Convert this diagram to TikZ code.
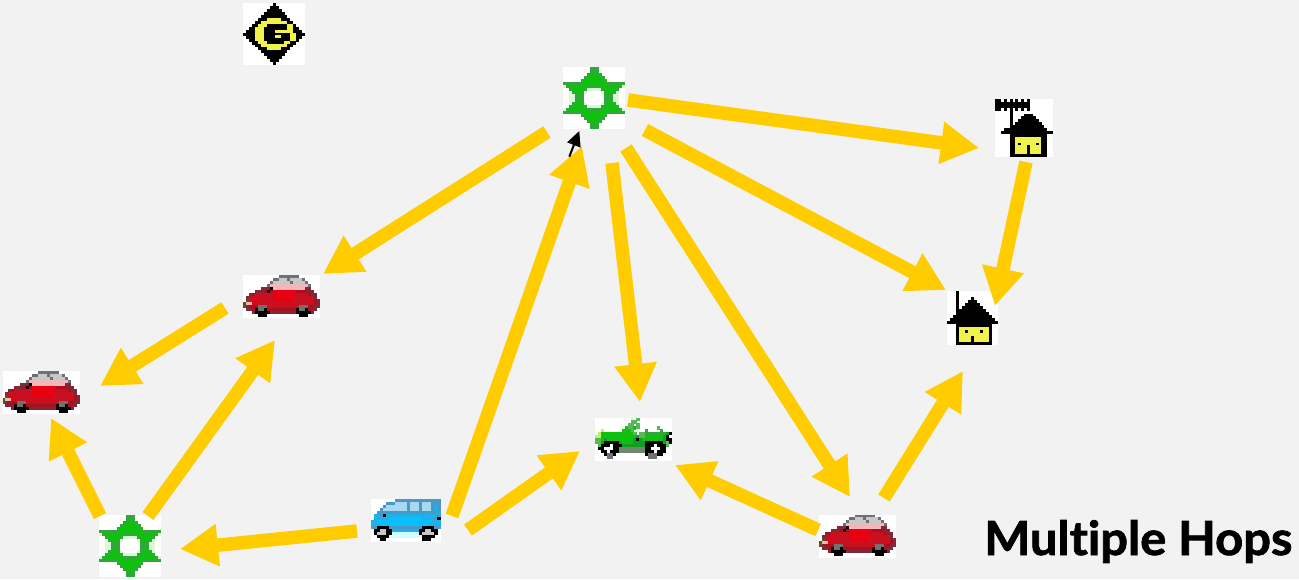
\documentclass[tikz,border=0pt]{standalone}
\usepackage{fontspec}
\setmainfont{Lato}
\newfontfamily\headfont[Ligatures=CommonOff,BoldFeatures={FakeBold=1.6,FakeStretch=1.04}]{Lato}
\usetikzlibrary{arrows.meta}
\definecolor{bgc}{HTML}{F2F2F2}
\definecolor{flowc}{HTML}{FFCC00}
\definecolor{pxk}{HTML}{000000}
\definecolor{pxy}{HTML}{F2F24C}
\definecolor{pxg}{HTML}{30A838}
\definecolor{pxG}{HTML}{10C010}
\definecolor{pxl}{HTML}{D8F8D8}
\definecolor{pxw}{HTML}{FFFFFF}
\definecolor{pxa}{HTML}{707070}
\definecolor{pxc}{HTML}{C8C8C8}
\definecolor{pxp}{HTML}{F0B8B8}
\definecolor{pxr}{HTML}{E80010}
\definecolor{pxR}{HTML}{C81020}
\definecolor{pxd}{HTML}{A81020}
\definecolor{pxm}{HTML}{802838}
\definecolor{pxo}{HTML}{605018}
\definecolor{pxb}{HTML}{20B0E8}
\definecolor{pxB}{HTML}{08C0FF}
\definecolor{pxs}{HTML}{A8D8F0}
\definecolor{pxD}{HTML}{4898C8}
\definecolor{pxu}{HTML}{D0FFFF}
\definecolor{pxe}{HTML}{58B858}
\definecolor{pxf}{HTML}{10A020}
\definecolor{pxh}{HTML}{708870}
\definecolor{pxn}{HTML}{C0F070}
\newcount\pxcol
\def\pxparse#1{\ifx#1\relax\else
  \if#1x\else\fill[px#1] (\the\pxcol,\pxrowno) rectangle +(1.06,1.06);\fi
  \advance\pxcol by 1 \expandafter\pxparse\fi}
\newcommand{\pixmap}[3]{%
  \begin{scope}[shift={(#1.north west)},x=#2pt,y=-#2pt]
  \foreach \pxline [count=\pxi from 0] in #3{%
    \pgfmathtruncatemacro{\pxrowno}{\pxi}\global\pxcol=0
    \expandafter\pxparse\pxline\relax}
  \end{scope}}
\def\mapG{xxxxxxxxxxkxxxxxxxxxx,xxxxxxxxxkkkxxxxxxxxx,xxxxxxxxkkkkkxxxxxxxx,xxxxxxxkkkkkkkxxxxxxx,xxxxxxkkkkkkkkkxxxxxx,xxxxxkkkyyyyykkkxxxxx,xxxxkkyyyyyyyyykkxxxx,xxxkkyyykkkkkkkyykxxx,xxkkyyykkkkkkkkyykkxx,xkkkyyykkkkyyyyyykkkx,kkkkyyykkkkkkkkkyykkk,xkkkyyykkkkyykkkyykkx,xxkkyyykkkkkkkkkyykxx,xxxkkyyykkkkkkyykkxxx,xxxxkkyyyyyyyyykkxxxx,xxxxxkkkyyyyykkkxxxxx,xxxxxxkkkkkkkkkxxxxxx,xxxxxxxkkkkkkkxxxxxxx,xxxxxxxxkkkkkxxxxxxxx,xxxxxxxxxkkkxxxxxxxxx,xxxxxxxxxxkxxxxxxxxxx}
\def\mapT{xxxxxxxxxgggxxxxxxxxx,xxxxxxxxxgggxxxxxxxxx,xxxxxxxxgGGGgxxxxxxxx,xxxxxxxgGGGGGgxxxxxxx,xxxxxxgGGGGGGGgxxxxxx,ggggggGGGGGGGGGgggggg,lgGGGGGGgggggGGGGGGgl,xxgGGGGglllllgGGGGgxx,xxlgGGglwwwwwlgGGglxx,xxllgggwwwwwwwgggllxx,xxllgggwwwwwwwgggllxx,xxllgggwwwwwwwgggllxx,xxlgGGglwwwwwlgGGglxx,xxgGGGGglllllgGGGGgxx,lgGGGGGGgggggGGGGGGgl,ggggggGGGGGGGGGgggggg,xxxxxxgGGGGGGGgxxxxxx,xxxxxxxgGGGGGgxxxxxxx,xxxxxxxxgGGGgxxxxxxxx,xxxxxxxxxgggxxxxxxxxx,xxxxxxxxxgggxxxxxxxxx}
\def\mapH{kkxkxkxkxkxkxxxxxxxx,kkkkkkkkkkkkxxxxxxxx,kkkkkkkkkkkkxxxxxxxx,kkxkxkxkxkxkxxxxxxxx,xxxxxkxxxxxxxxxxxxxx,xxxxxkxxxxkkkxxxxxxx,xxxxxkxxxkkkkkxxxxxx,xxxxxkxxkkkkkkkxxxxx,xxxxxkxkkkkkkkkkxxxx,xxxxxkkkkkkkkkkkkxxx,xxxkkkkkkkkkkkkkkkxx,xxkkkkkkkkkkkkkkkkkk,xxxxxkkkkkkkkkkkkkxx,xxxxxkkyyyyyyyyykkxx,xxxxxkkyyyyyyyyykkxx,xxxxxkkykyyyyykykkxx,xxxxxkkyyyykyyyykkxx,xxxxxkkyyyykyyyykkxx,xxxxxkkyyyykyyyykkxx,xxxxxkkkkkkkkkkkkkxx}
\def\mapI{xxxkxxxxxxxxxxxxx,xxxkxxxxxxxxxxxxx,xxxkxxxxkxxxxxxxx,xxxkxxxkkkxxxxxxx,xxxkxxkkkkkxxxxxx,xxxkxkkkkkkkxxxxx,xxxkkkkkkkkkkxxxx,xxxkkkkkkkkkkkxxx,xxkkkkkkkkkkkkkxx,xkkkkkkkkkkkkkkkx,kkkkkkkkkkkkkkkkk,xxxkkkkkkkkkkkkxx,xxxkyyyyyyyyyykxx,xxxkyykyyyykyykxx,xxxkyyyyyyyyyykxx,xxxkyyyykyyyyykxx,xxxkyyyykyyyyykxx,xxxkkkkkkkkkkkkxx}
\def\mapC{xxxxxxxxxxxxaaaaaaaxxxxxxx,xxxxxxxxxxaacccaccccaxxxxx,xxxxxxxxxaccccccaccccaxxxx,xxxxxxxxapppppppppppppaxxx,xxxxxxmmmkpppppppppppmmxxx,xxxxmmmdkdrrrrrrrrddddmmxx,xxmdRRRRRRrrrrrrrRRRRRdmmx,xmRRRRRRRRrrrrrrrRRRRRRRmx,xoRRrRRRRRrrrrrrrRRRRRRRdm,opprRRRRRRRRRRRRRRRRRRRRdm,omdddaaaRRRRRRRRRRRaaaddmm,xmmdkaakddddddddddkaakdmmx,xxxmkkkkkmmmmmmmmmkkkkkmxx,xxxxxkkkxxxxxxxxxxxkkkxxxx}
\def\mapV{xxxxxxxxDDDDDDDDDDDDDDD,xxxxxDDDssssDsssDsssDDD,xxxxDsssssssDsssDsssDbD,xxxDssssssssDsssDsssDbD,xxDDDDDDDDDDDDDDDDDDDDb,xbbDkbbbbbbbbbbbbbbbbbD,xbbbbbBBBBBBBBBBBbbbbDk,bbBBBBBBBBBBBBBBBBBBbbb,bbbBBBBBBBBBBBBBBBBbbbb,DDkkkkDDDDDDDDDDDkkkkDD,xkkcckkbbbbbbbbbkkcckkx,xkccckkuuuuuuuuukcccckx,xxkkkkuuuuuuuuuuukkkkxx,xxxkkxxxxxxxxxxxxkkkxxx}
\def\mapJ{xxxxxxxxxxxxlxexxxxxxxxxxx,xxxxxxxxxxxxeexxxxxxxxxxxx,xxxxxxxxxxxeexexxxxxxxxxxx,xxxxxxxxxxGeeGexxxxxxexxxx,xxnxxxxxxGGGexlxxgxxxxgxxx,xnGGGGGGGGGGGexeegggggggfk,nnGGGGGGGGGGGGfeeGGGGGGfkx,eeGfGGGGGGGGGfkfGGGGGGGfkk,eefkkkkkfGGGGffffkkkkkkfek,xekkkwkkkffffffffkkkwkkkex,xkkwwwkkhhhhhhhhhkkwwwkkxx,xxkkwkkkhhhhhhhhhkkkwkkkxx,xxxkaakxxxxxxxxxxkaaakkxxx,xxxxaaxxxxxxxxxxxxaaaxxxxx}
\tikzset{
  tile/.style={fill=white,draw=none,inner sep=0pt,outer sep=0pt,minimum width=#1},
  flow/.style={draw=flowc,line width=13.5pt,-{Triangle[length=38pt,width=40pt]}},
  tiny arrow/.style={draw=black,line width=2pt,-{Triangle[length=15pt,width=14pt]}},
  heading/.style={inner sep=0pt,font=\headfont\bfseries\fontsize{47}{47}\selectfont,text=black}
}
\begin{document}
\begin{tikzpicture}[x=1pt,y=-1pt]
\useasboundingbox[fill=bgc] (0,0) rectangle (1299,579);
\node[tile=62pt,minimum height=62pt] (gw) at (274,34) {};
\node[tile=62pt,minimum height=62pt] (tw1) at (594,98) {};
\node[tile=58pt,minimum height=58pt] (h1) at (1024,128) {};
\node[tile=51pt,minimum height=54pt] (h2) at (972.5,318) {};
\node[tile=77pt,minimum height=43pt] (car1) at (281.5,296.5) {};
\node[tile=77pt,minimum height=43pt] (car2) at (41,392.5) {};
\node[tile=77pt,minimum height=43pt] (car3) at (857.5,536) {};
\node[tile=62pt,minimum height=62pt] (tw2) at (130,546) {};
\node[tile=70pt,minimum height=43pt] (van) at (405.5,520) {};
\node[tile=77pt,minimum height=43pt] (jeep) at (633.5,439) {};
\pixmap{gw}{2.952}{\mapG}
\pixmap{tw1}{2.952}{\mapT}
\pixmap{tw2}{2.952}{\mapT}
\pixmap{h1}{2.9}{\mapH}
\pixmap{h2}{3}{\mapI}
\pixmap{car1}{2.96}{\mapC}
\pixmap{car2}{2.96}{\mapC}
\pixmap{car3}{2.96}{\mapC}
\pixmap{van}{3.04}{\mapV}
\pixmap{jeep}{2.96}{\mapJ}
\draw[flow] ([shift={(34,2)}]tw1.center) -- ([shift={(-45,20)}]h1.center);
\draw[flow] ([shift={(51,32)}]tw1.center) -- ([shift={(-26.5,-28)}]h2.center);
\draw[flow] ([shift={(32,50)}]tw1.center) -- ([shift={(-7.5,-39)}]car3.center);
\draw[flow] ([shift={(18,65)}]tw1.center) -- ([shift={(6.5,-37)}]jeep.center);
\draw[flow] ([shift={(-47,34)}]tw1.center) -- ([shift={(41.5,-22.5)}]car1.center);
\draw[flow] ([shift={(-56.5,11.5)}]car1.center) -- ([shift={(59,-6.5)}]car2.center);
\draw[flow] ([shift={(18,-30)}]tw2.center) -- ([shift={(-6.5,43.5)}]car1.center);
\draw[flow] ([shift={(-30,-30)}]tw2.center) -- ([shift={(10,25.5)}]car2.center);
\draw[flow] ([shift={(-48.5,11)}]van.center) -- ([shift={(50,3)}]tw2.center);
\draw[flow] ([shift={(46.5,-4)}]van.center) -- ([shift={(-12,48)}]tw1.center);
\draw[flow] ([shift={(62.5,10)}]van.center) -- ([shift={(-53.5,12)}]jeep.center);
\draw[flow] ([shift={(-39.5,-6)}]car3.center) -- ([shift={(41.5,26)}]jeep.center);
\draw[flow] ([shift={(26.5,-38)}]car3.center) -- ([shift={(-9.5,53)}]h2.center);
\draw[flow] ([shift={(2,34)}]h1.center) -- ([shift={(22.5,-12)}]h2.center);
\draw[tiny arrow] ([shift={(-24.7,58.7)}]tw1.center) -- ([shift={(-14.7,33)}]tw1.center);
\node[heading,anchor=base west] (title) at (984,555) {Multiple Hops};
\end{tikzpicture}
\end{document}
